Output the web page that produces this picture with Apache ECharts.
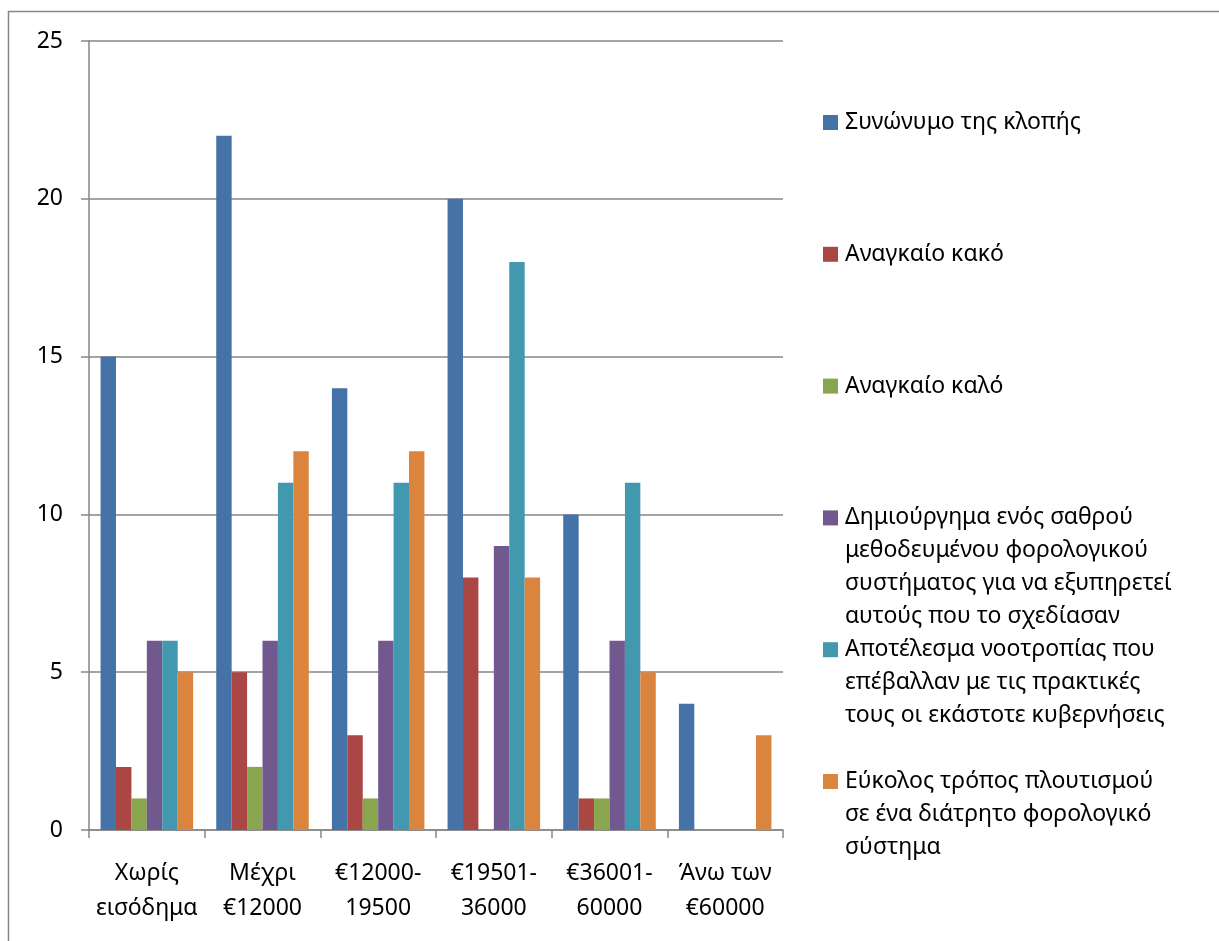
<!DOCTYPE html>
<html>
<head>
<meta charset="utf-8">
<script src="https://cdn.jsdelivr.net/npm/echarts@6/dist/echarts.min.js"></script>
<style>
html,body{margin:0;padding:0;background:#fff;}
#chart{width:1219px;height:941px;}
</style>
</head>
<body>
<div id="chart"></div>
<script>
const categories = ['Χωρίς\nεισόδημα', 'Μέχρι\n€12000', '€12000-\n19500', '€19501-\n36000', '€36001-\n60000', 'Άνω των\n€60000'];
const seriesNames = [
  'Συνώνυμο της κλοπής',
  'Αναγκαίο κακό',
  'Αναγκαίο καλό',
  'Δημιούργημα ενός σαθρού μεθοδευμένου φορολογικού συστήματος για να εξυπηρετεί αυτούς που το σχεδίασαν',
  'Αποτέλεσμα νοοτροπίας που επέβαλλαν με τις πρακτικές τους οι εκάστοτε κυβερνήσεις',
  'Εύκολος τρόπος πλουτισμού σε ένα διάτρητο φορολογικό σύστημα'
];
const legendLines = [
  ['Συνώνυμο της κλοπής'],
  ['Αναγκαίο κακό'],
  ['Αναγκαίο καλό'],
  ['Δημιούργημα ενός σαθρού', 'μεθοδευμένου φορολογικού', 'συστήματος για να εξυπηρετεί', 'αυτούς που το σχεδίασαν'],
  ['Αποτέλεσμα νοοτροπίας που', 'επέβαλλαν με τις πρακτικές', 'τους οι εκάστοτε κυβερνήσεις'],
  ['Εύκολος τρόπος πλουτισμού', 'σε ένα διάτρητο φορολογικό', 'σύστημα']
];
const theft = [15, 22, 14, 20, 10, 4];
const necessaryEvil = [2, 5, 3, 8, 1, 0];
const necessaryGood = [1, 2, 1, 0, 1, 0];
const flawedSystem = [6, 6, 6, 9, 6, 0];
const mentality = [6, 11, 11, 18, 11, 0];
const easyWealth = [5, 12, 12, 8, 5, 3];
const yTicks = [0, 5, 10, 15, 20, 25];

const colors = ['#4572A7', '#AA4643', '#89A54E', '#71588F', '#4198AF', '#DB843D'];
const allData = [theft, necessaryEvil, necessaryGood, flawedSystem, mentality, easyWealth];
const FONT = '"Noto Sans", "DejaVu Sans", sans-serif';
const FS = 23;

const chart = echarts.init(document.getElementById('chart'));

const legends = seriesNames.map((name, i) => {
  const rich = {
    sq: { width: 15, height: 15, backgroundColor: colors[i], lineHeight: 33 },
    g: { width: 7, lineHeight: 33 },
    ind: { width: 22, lineHeight: 33 },
    t: { fontSize: FS, fontFamily: FONT, color: '#000', lineHeight: 33 }
  };
  const lines = legendLines[i];
  return {
    data: [name],
    orient: 'vertical',
    left: 818,
    top: 106 + i * 131.8,
    padding: 0,
    itemWidth: 0,
    itemHeight: 0,
    selectedMode: false,
    textStyle: { fontSize: FS, fontFamily: FONT, color: '#000', lineHeight: 33, rich: rich },
    formatter: function () {
      return lines.map((l, k) => (k === 0 ? '{sq| }{g| }' : '{ind| }') + '{t|' + l + '}').join('\n');
    }
  };
});

const option = {
  animation: false,
  backgroundColor: '#fff',
  color: colors,
  grid: { left: 89, right: 436, top: 41, bottom: 111, containLabel: false },
  legend: legends,
  graphic: [{
    type: 'rect',
    shape: { x: 8.5, y: 11.5, width: 1400, height: 1200 },
    style: { fill: 'none', stroke: '#868686', lineWidth: 1.5 },
    silent: true, z: -1
  }],
  xAxis: {
    type: 'category',
    data: categories,
    axisLine: { lineStyle: { color: '#868686', width: 1.5 } },
    axisTick: { show: true, length: 8, lineStyle: { color: '#868686', width: 1.5 } },
    axisLabel: { fontSize: FS, fontFamily: FONT, color: '#000', lineHeight: 35, margin: 26, interval: 0 }
  },
  yAxis: {
    type: 'value',
    min: yTicks[0], max: yTicks[yTicks.length - 1], interval: 5,
    axisLine: { show: true, lineStyle: { color: '#868686', width: 1.5 } },
    axisTick: { show: true, length: 8, lineStyle: { color: '#868686', width: 1.5 } },
    axisLabel: { fontSize: FS, fontFamily: FONT, color: '#000', margin: 26 },
    splitLine: { lineStyle: { color: '#868686', width: 1.5 } }
  },
  series: seriesNames.map((name, i) => ({
    name: name,
    type: 'bar',
    data: allData[i],
    barGap: '0%',
    barCategoryGap: '20%',
    itemStyle: { color: colors[i] }
  }))
};
chart.setOption(option);
</script>
</body>
</html>
